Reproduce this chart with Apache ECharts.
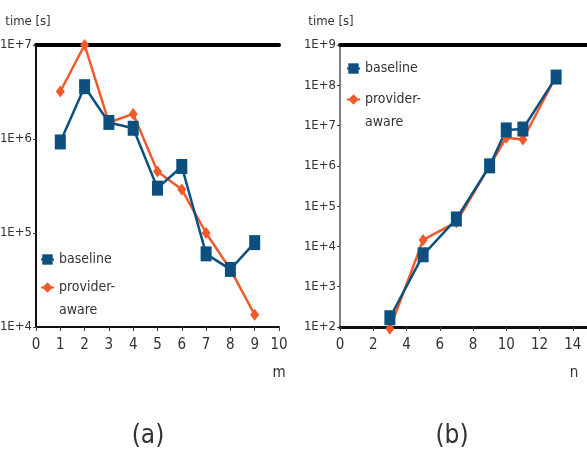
<!DOCTYPE html>
<html><head><meta charset="utf-8">
<script src="https://cdn.jsdelivr.net/npm/echarts@6/dist/echarts.min.js"></script>
<style>html,body{margin:0;padding:0;background:#fff}#c{width:587px;height:453px}</style>
</head><body><div id="c"></div>
<script>
const mVals = [1, 2, 3, 4, 5, 6, 7, 8, 9];
const baselineA = [9.3e5, 3.6e6, 1.5e6, 1.3e6, 3.0e5, 5.1e5, 6.0e4, 4.1e4, 7.9e4];
const providerA = [3.2e6, 1.0e7, 1.5e6, 1.85e6, 4.5e5, 2.9e5, 1.0e5, 4.1e4, 1.35e4];
const nVals = [3, 5, 7, 9, 10, 11, 13];
const baselineB = [1.7e2, 6.2e3, 4.8e4, 1.0e6, 7.8e6, 8.2e6, 1.6e8];
const providerB = [0.9e2, 1.45e4, 4.0e4, 1.0e6, 5.0e6, 4.5e6, 1.7e8];
const seriesNames = ['baseline', 'provider-aware'];

const FONT = '"Liberation Sans Narrow","DejaVu Sans Condensed",sans-serif';
const BLUE = '#0d5080', ORANGE = '#f2592a', TXT = '#333';
const pairs = (xs, ys) => xs.map((x, i) => [x, ys[i]]);
const expFmt = v => '1E+' + Math.round(Math.log10(v));

const chart = echarts.init(document.getElementById('c'));
const xLabel = {color: TXT, fontFamily: FONT, fontSize: 15, margin: 11};
const yLabel = {color: TXT, fontFamily: FONT, fontSize: 13, margin: 4, formatter: expFmt};
function legend(left, top, gap) {
  return {
    left, top, orient: 'vertical', padding: 0, itemWidth: 13, itemHeight: 13, itemGap: gap, textGap: 2,
    textStyle: {color: TXT, fontFamily: FONT, fontSize: 14, lineHeight: 23},
    formatter: name => name === 'baseline' ? name : ' \nprovider-\naware',
    data: seriesNames
  };
}
function txt(x, y, text, size) {
  return {type: 'text', x, y, style: {text, font: size + 'px ' + FONT, fill: TXT, align: 'center', verticalAlign: 'middle'}};
}
chart.setOption({
  animation: false,
  grid: [
    {left: 36, top: 45, width: 243, height: 282, outerBoundsMode: 'none'},
    {left: 340, top: 45, width: 266, height: 282, outerBoundsMode: 'none'}
  ],
  legend: [legend(40, 248, -18), legend(346, 57, -15)],
  xAxis: [
    {gridIndex: 0, type: 'value', min: 0, max: 10, interval: 1, splitLine: {show: false},
     axisLine: {lineStyle: {color: '#111', width: 2}}, axisTick: {length: 4, lineStyle: {color: '#444'}},
     axisLabel: xLabel},
    {gridIndex: 0, type: 'value', position: 'top', min: 0, max: 10, splitLine: {show: false},
     axisLine: {lineStyle: {color: '#000', width: 4}}, axisTick: {show: false}, axisLabel: {show: false}},
    {gridIndex: 1, type: 'value', min: 0, max: 16, interval: 2, splitLine: {show: false},
     axisLine: {lineStyle: {color: '#111', width: 3}}, axisTick: {length: 4, lineStyle: {color: '#444'}},
     axisLabel: xLabel},
    {gridIndex: 1, type: 'value', position: 'top', min: 0, max: 16, splitLine: {show: false},
     axisLine: {lineStyle: {color: '#000', width: 4}}, axisTick: {show: false}, axisLabel: {show: false}}
  ],
  yAxis: [
    {gridIndex: 0, type: 'log', logBase: 10, min: 1e4, max: 1e7, splitLine: {show: false},
     axisLine: {show: true, lineStyle: {color: '#555', width: 1.5}}, axisTick: {show: true, length: 3, lineStyle: {color: '#444'}},
     axisLabel: yLabel},
    {gridIndex: 0, type: 'value', position: 'right', min: 0, max: 1, splitLine: {show: false},
     axisLine: {show: true, lineStyle: {color: '#111', width: 2}}, axisTick: {show: false}, axisLabel: {show: false}},
    {gridIndex: 1, type: 'log', logBase: 10, min: 1e2, max: 1e9, splitLine: {show: false},
     axisLine: {show: true, lineStyle: {color: '#555', width: 1.5}}, axisTick: {show: true, length: 3, lineStyle: {color: '#444'}},
     axisLabel: yLabel}
  ],
  series: [
    {name: seriesNames[1], type: 'line', xAxisIndex: 0, yAxisIndex: 0, data: pairs(mVals, providerA),
     symbol: 'diamond', symbolSize: [9, 12], color: ORANGE, lineStyle: {width: 2.5}, clip: false},
    {name: seriesNames[0], type: 'line', xAxisIndex: 0, yAxisIndex: 0, data: pairs(mVals, baselineA),
     symbol: 'rect', symbolSize: [11, 15], color: BLUE, lineStyle: {width: 2.5}, clip: false},
    {name: seriesNames[1], type: 'line', xAxisIndex: 2, yAxisIndex: 2, data: pairs(nVals, providerB),
     symbol: 'diamond', symbolSize: [9, 12], color: ORANGE, lineStyle: {width: 2.5}, clip: false},
    {name: seriesNames[0], type: 'line', xAxisIndex: 2, yAxisIndex: 2, data: pairs(nVals, baselineB),
     symbol: 'rect', symbolSize: [11, 15], color: BLUE, lineStyle: {width: 2.5}, clip: false}
  ],
  graphic: [
    txt(28, 22, 'time [s]', 13),
    txt(331, 22, 'time [s]', 13),
    txt(279, 373, 'm', 15),
    txt(574, 373, 'n', 15),
    txt(148, 436, '(a)', 26),
    txt(452, 436, '(b)', 26)
  ]
});
</script></body></html>
